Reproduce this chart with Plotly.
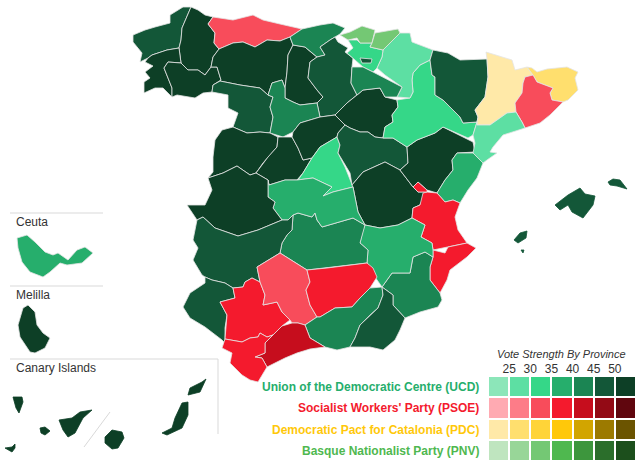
import plotly.graph_objects as go

# ── Palette (vote strength bins, 25 .. 50+) ────────────────────────────────
UCD = ["#8ce6b9", "#5ddfa3", "#35d788", "#26ae6c", "#1b8553", "#135738", "#0d3f26"]
PSOE = ["#ffaab2", "#fd7c88", "#f84c5b", "#f41a2d", "#c60d1d", "#930a15", "#60060e"]
PDC = ["#ffe9a8", "#ffdf6e", "#ffd438", "#ffc80a", "#d2a500", "#9c7a00", "#6b5400"]
PNV = ["#bfe5bf", "#98d698", "#74c874", "#4fb84f", "#3d963d", "#2b6e2b", "#1c4f1c"]
BIN_LABELS = ["25", "30", "35", "40", "45", "50"]
PARTY_LABELS = [
    "Union of the Democratic Centre (UCD)",
    "Socialist Workers' Party (PSOE)",
    "Democratic Pact for Catalonia (PDC)",
    "Basque Nationalist Party (PNV)",
]

# ── Province outlines, in picture units ────────────────────────────────────
A_CORUNA = [(133,35),(145,30),(155,27),(170,23),(170,15),(183,7),(191,7),(187,17),(182,28),(181,40),(179,48),(167,50),(152,55),(148,58),(140,62),(142,53),(133,42)]
LUGO = [(191,7),(198,10),(205,15),(213,17),(208,24),(215,33),(214,43),(219,49),(213,57),(211,67),(205,75),(198,70),(188,70),(181,63),(179,48),(181,40),(182,28),(187,17)]
PONTEVEDRA = [(148,58),(152,55),(167,50),(179,48),(181,63),(168,62),(164,68),(168,78),(172,88),(172,97),(163,88),(155,88),(144,93),(144,82),(150,78),(145,72),(153,66),(145,62)]
OURENSE = [(181,63),(188,70),(198,70),(205,75),(211,67),(217,67),(221,80),(213,85),(212,92),(203,93),(195,98),(177,95),(172,97),(172,88),(168,78),(164,68),(168,62)]
ASTURIAS = [(213,17),(233,20),(253,15),(263,20),(280,24),(302,29),(290,37),(280,41),(267,40),(255,47),(243,42),(233,43),(219,49),(214,43),(215,33),(208,24)]
LEON = [(219,49),(233,43),(243,42),(255,47),(267,40),(280,41),(290,37),(293,45),(288,55),(287,72),(285,88),(282,80),(272,83),(268,95),(260,88),(240,85),(220,81),(221,80),(217,67),(211,67),(213,57)]
PALENCIA = [(293,45),(305,47),(312,53),(317,57),(310,62),(308,78),(317,90),(323,97),(317,103),(300,105),(293,102),(285,98),(285,88),(287,72),(288,55)]
CANTABRIA = [(290,37),(302,29),(320,25),(333,23),(345,28),(340,34),(335,37),(330,40),(320,47),(325,55),(317,57),(312,53),(305,47),(293,45)]
BURGOS = [(330,40),(335,37),(338,42),(348,48),(345,52),(353,58),(352,67),(351,83),(357,95),(347,103),(335,115),(320,117),(317,103),(323,97),(317,90),(308,78),(310,62),(317,57),(325,55),(320,47)]
TREVINO = [(360,58),(372,59),(371,63),(362,63)]
ZAMORA = [(220,81),(240,85),(260,88),(268,95),(273,97),(270,107),(273,117),(270,133),(260,132),(247,133),(233,127),(238,113),(228,108),(228,95),(212,92),(213,85)]
VALLADOLID = [(272,83),(282,80),(285,88),(285,98),(293,102),(300,105),(317,103),(320,117),(300,123),(293,132),(283,137),(270,133),(273,117),(270,107),(273,97),(268,95)]
SALAMANCA = [(222,130),(233,127),(247,133),(260,132),(270,133),(278,137),(277,147),(268,157),(263,163),(256,173),(250,175),(237,166),(223,173),(208,178),(213,172),(213,157),(215,140)]
AVILA = [(278,137),(283,137),(292,137),(298,148),(303,160),(312,158),(303,173),(297,180),(285,180),(269,185),(268,180),(256,173),(263,163),(268,157),(277,147)]
SEGOVIA = [(292,137),(293,132),(300,123),(320,117),(335,115),(345,125),(338,133),(337,137),(320,147),(312,158),(303,160),(298,148)]
SORIA = [(335,115),(347,103),(357,95),(363,90),(380,88),(385,97),(397,100),(398,107),(392,115),(393,122),(385,127),(383,138),(375,137),(368,132),(360,132),(350,128),(345,125)]
MADRID = [(337,137),(340,145),(338,153),(345,167),(353,187),(333,192),(323,196),(332,187),(313,178),(298,180),(303,173),(312,158),(320,147)]
GUADALAJARA = [(338,133),(345,125),(350,128),(360,132),(368,132),(375,137),(383,138),(393,138),(407,147),(408,163),(400,170),(385,162),(363,172),(352,185),(350,173),(340,157),(338,153),(340,145),(337,137)]
CUENCA = [(352,185),(363,172),(385,162),(400,170),(413,187),(418,192),(427,192),(420,205),(413,208),(412,218),(398,225),(380,228),(365,225),(358,212),(353,187)]
TERUEL = [(407,147),(417,140),(435,133),(443,127),(473,142),(475,152),(457,153),(452,160),(453,170),(445,180),(437,193),(427,190),(418,182),(413,187),(400,170),(408,163)]
ADEMUZ = [(413,187),(418,182),(427,190),(427,192),(418,192)]
ZARAGOZA = [(413,73),(420,65),(430,60),(432,75),(435,77),(435,95),(443,100),(460,117),(463,123),(477,122),(473,135),(468,138),(443,127),(435,133),(417,140),(407,147),(393,138),(383,138),(385,127),(393,122),(392,115),(398,107),(397,100),(410,98),(413,92),(412,80)]
NAVARRA = [(383,50),(400,33),(410,33),(412,42),(433,50),(430,60),(420,65),(413,73),(412,80),(413,92),(410,98),(397,97),(402,87),(385,75),(377,68),(382,57)]
ALAVA = [(357,40),(360,43),(372,43),(370,47),(383,50),(382,57),(377,68),(373,72),(363,67),(347,53),(353,48),(348,40)]
VIZCAYA = [(340,35),(350,32),(362,26),(375,30),(372,43),(360,43),(357,38),(348,40)]
GUIPUZCOA = [(375,33),(398,29),(400,33),(383,50),(370,47),(372,43)]
LA_RIOJA = [(352,67),(363,67),(373,72),(402,87),(397,97),(385,97),(380,88),(363,90),(357,95),(351,83)]
HUESCA = [(433,50),(448,53),(460,60),(487,59),(488,77),(485,97),(475,110),(478,117),(477,122),(463,123),(460,117),(443,100),(435,95),(435,77),(432,75),(430,60)]
LLEIDA = [(486,52),(502,57),(512,60),(515,70),(523,68),(527,67),(533,75),(525,77),(523,83),(522,93),(515,103),(516,112),(507,113),(490,125),(477,125),(477,122),(478,117),(475,110),(485,97),(488,77),(487,59)]
GIRONA = [(527,67),(532,68),(537,72),(547,69),(567,67),(578,72),(575,78),(578,90),(568,100),(563,102),(552,100),(550,93),(553,88),(537,82),(533,75)]
BARCELONA = [(525,77),(533,75),(537,82),(553,88),(550,93),(552,100),(563,102),(550,115),(540,123),(525,128),(522,122),(516,112),(515,103),(522,93),(523,83)]
TARRAGONA = [(477,125),(490,125),(507,113),(516,112),(522,122),(525,128),(503,135),(493,147),(490,152),(497,153),(487,160),(483,163),(473,153),(475,143),(473,135),(477,122)]
CASTELLON = [(457,153),(473,153),(483,163),(477,178),(468,190),(460,203),(453,200),(445,202),(437,193),(445,180),(453,170),(452,160)]
VALENCIA = [(423,193),(427,192),(437,193),(445,202),(453,200),(460,203),(455,217),(458,230),(467,243),(448,247),(433,250),(432,243),(421,237),(425,225),(412,218),(413,208),(420,205)]
ALICANTE = [(433,250),(445,253),(448,247),(467,243),(476,248),(467,257),(450,270),(447,280),(440,293),(430,280),(430,267),(433,257)]
MURCIA = [(382,287),(392,273),(410,273),(413,257),(425,252),(433,257),(430,267),(430,280),(440,293),(442,300),(438,307),(420,312),(405,318),(393,305),(393,295)]
ALBACETE = [(365,225),(380,228),(398,225),(412,218),(425,225),(421,237),(432,243),(433,250),(433,257),(425,252),(413,257),(410,273),(392,273),(382,287),(375,277),(367,263),(368,250),(360,243),(363,230)]
CIUDAD_REAL = [(293,215),(298,213),(312,217),(315,213),(317,220),(322,227),(353,218),(365,225),(360,243),(368,250),(367,263),(327,268),(307,270),(280,253),(282,243),(287,235),(292,230)]
TOLEDO = [(268,180),(269,185),(285,180),(297,180),(313,178),(332,187),(323,196),(333,192),(353,187),(358,212),(365,225),(353,218),(322,227),(317,220),(315,213),(312,217),(298,213),(293,215),(288,220),(282,220),(273,208),(275,202),(268,197)]
CACERES = [(208,178),(223,173),(237,166),(250,175),(256,173),(268,180),(268,197),(275,202),(273,208),(282,220),(270,225),(258,230),(238,236),(215,228),(203,217),(197,220),(187,205),(205,205),(212,190)]
BADAJOZ = [(197,220),(203,217),(215,228),(238,236),(258,230),(270,225),(282,220),(288,220),(293,215),(292,230),(287,235),(282,243),(280,253),(257,267),(260,282),(252,278),(245,282),(243,287),(233,288),(225,283),(212,280),(205,277),(202,275),(193,260),(198,248),(193,240)]
HUELVA = [(205,277),(212,280),(225,283),(233,288),(235,298),(220,302),(227,315),(225,328),(225,343),(222,340),(205,327),(190,318),(183,307),(190,293),(205,283)]
SEVILLA = [(233,288),(243,287),(245,282),(252,278),(260,282),(265,295),(263,305),(277,302),(282,312),(290,320),(282,326),(273,335),(267,337),(260,333),(258,337),(250,338),(242,342),(225,339),(227,315),(220,302),(235,298)]
CORDOBA = [(280,253),(307,270),(310,282),(306,290),(310,305),(317,317),(305,325),(298,323),(292,323),(290,320),(282,312),(277,302),(263,305),(265,295),(260,282),(257,267)]
JAEN = [(307,270),(327,268),(367,263),(373,268),(377,277),(370,288),(360,298),(352,307),(335,308),(320,317),(317,317),(310,305),(306,290),(310,282)]
GRANADA = [(305,325),(317,317),(320,317),(335,308),(352,307),(360,298),(370,288),(382,287),(383,295),(378,308),(370,315),(360,325),(355,338),(350,347),(337,350),(325,347),(310,338)]
ALMERIA = [(382,287),(393,295),(393,305),(405,318),(400,330),(395,340),(383,350),(370,347),(350,347),(355,338),(360,325),(370,315),(378,308),(383,295)]
MALAGA = [(282,326),(292,323),(298,323),(305,325),(310,338),(325,347),(310,349),(297,353),(285,358),(267,367),(262,358),(255,357),(265,353),(265,343),(273,335)]
CADIZ = [(225,339),(242,342),(250,338),(258,337),(260,333),(267,337),(273,335),(265,343),(265,353),(255,357),(262,358),(267,367),(258,382),(250,380),(242,375),(230,363),(232,353),(222,348)]
MALLORCA = [(555,205),(568,195),(580,188),(585,194),(595,196),(593,205),(583,218),(572,212),(568,205),(560,210)]
MENORCA = [(608,182),(613,179),(620,180),(627,189),(617,186),(610,185)]
IBIZA = [(514,240),(520,233),(527,231),(526,238),(518,243)]
FORMENTERA = [(521,250),(524,250),(523,253)]
CEUTA = [(17,238),(27,235),(35,242),(45,252),(53,255),(58,253),(68,260),(77,250),(85,247),(93,253),(82,263),(67,265),(60,263),(50,272),(43,277),(30,272),(22,262),(18,248)]
MELILLA = [(28,305),(35,312),(37,325),(43,333),(50,338),(45,348),(35,353),(30,352),(20,337),(18,325),(23,308)]
LA_PALMA = [(13,397),(22,397),(23,402),(19,413),(16,408)]
EL_HIERRO = [(5,448),(12,447),(15,444),(15,448),(12,452)]
LA_GOMERA = [(40,428),(45,427),(50,431),(45,435),(41,433)]
TENERIFE = [(59,420),(72,418),(80,412),(92,410),(83,418),(75,433),(68,437),(63,430)]
GRAN_CANARIA = [(105,437),(112,430),(122,432),(124,438),(118,448),(112,449),(105,443)]
FUERTEVENTURA = [(162,433),(172,428),(175,418),(182,403),(188,402),(188,415),(182,428),(170,433),(167,435)]
LANZAROTE = [(190,388),(202,382),(206,379),(200,392),(188,395)]

# provincia -> color del bin
MAP_REGIONS = [
    (A_CORUNA, UCD[5]), (LUGO, UCD[6]), (PONTEVEDRA, UCD[6]), (OURENSE, UCD[6]),
    (ASTURIAS, PSOE[2]), (LEON, UCD[6]), (PALENCIA, UCD[6]), (CANTABRIA, UCD[4]),
    (BURGOS, UCD[5]), (ZAMORA, UCD[5]), (VALLADOLID, UCD[4]), (SALAMANCA, UCD[6]),
    (AVILA, UCD[6]), (SEGOVIA, UCD[6]), (SORIA, UCD[6]), (MADRID, UCD[2]),
    (GUADALAJARA, UCD[5]), (CUENCA, UCD[6]), (TERUEL, UCD[6]), (ZARAGOZA, UCD[2]),
    (NAVARRA, UCD[1]), (ALAVA, UCD[2]), (TREVINO, UCD[5]), (VIZCAYA, PNV[2]),
    (GUIPUZCOA, PNV[2]), (LA_RIOJA, UCD[4]), (HUESCA, UCD[5]), (LLEIDA, PDC[0]),
    (GIRONA, PDC[1]), (BARCELONA, PSOE[2]), (TARRAGONA, UCD[1]), (CASTELLON, UCD[3]),
    (VALENCIA, PSOE[3]), (ADEMUZ, PSOE[3]), (ALICANTE, PSOE[3]), (MURCIA, UCD[4]),
    (ALBACETE, UCD[3]), (CIUDAD_REAL, UCD[4]), (TOLEDO, UCD[3]), (CACERES, UCD[6]),
    (BADAJOZ, UCD[5]), (HUELVA, UCD[5]), (SEVILLA, PSOE[3]), (CORDOBA, PSOE[2]),
    (JAEN, PSOE[3]), (GRANADA, UCD[4]), (ALMERIA, UCD[5]), (MALAGA, PSOE[4]),
    (CADIZ, PSOE[3]), (CEUTA, UCD[3]), (MELILLA, UCD[6]),
]
DARK_ISLANDS = [MALLORCA, MENORCA, IBIZA, FORMENTERA]
CANARY = [LA_PALMA, EL_HIERRO, LA_GOMERA, TENERIFE, GRAN_CANARIA, FUERTEVENTURA, LANZAROTE]

FONT = "Liberation Sans, Arial, sans-serif"
BORDER = "#e4e4e4"
INSET = "#d9d9d9"

fig = go.Figure()


def add_region(pts, color, edge=BORDER):
    xs, ys = zip(*pts)
    fig.add_trace(go.Scatter(
        x=xs + xs[:1], y=ys + ys[:1], mode="lines", fill="toself", fillcolor=color,
        line=dict(color=edge, width=0.8), hoverinfo="skip", showlegend=False,
    ))


for pts, color in MAP_REGIONS:
    add_region(pts, color)
for pts in DARK_ISLANDS:
    add_region(pts, UCD[5], UCD[5])
for pts in CANARY:
    add_region(pts, UCD[6], UCD[6])

# ── Leyenda: heatmap de bins ───────────────────────────────────────────────
swatches = UCD + PSOE + PDC + PNV
n = len(swatches)
colorscale = []
for i, c in enumerate(swatches):
    colorscale += [[i / n, c], [(i + 1) / n, c]]
z = [[r * 7 + c for c in range(7)] for r in range(4)]
fig.add_trace(go.Heatmap(
    z=z, x=list(range(7)), y=list(range(4)), zmin=-0.5, zmax=n - 0.5,
    colorscale=colorscale, showscale=False, xgap=2, ygap=2, hoverinfo="skip",
    xaxis="x2", yaxis="y2",
))

fig.update_layout(
    width=640, height=465, autosize=False,
    margin=dict(l=0, r=0, t=0, b=0),
    paper_bgcolor="white", plot_bgcolor="white",
    font=dict(family=FONT, color="#333333"),
    xaxis=dict(range=[0, 640], visible=False, domain=[0, 1], fixedrange=True),
    yaxis=dict(range=[465, 0], visible=False, domain=[0, 1], fixedrange=True),
    xaxis2=dict(
        domain=[488 / 640, 636 / 640], range=[-0.5, 6.5], anchor="y2", side="top",
        tickmode="array", tickvals=[i + 0.5 for i in range(6)], ticktext=BIN_LABELS,
        tickfont=dict(size=12, color="#333333"), ticks="", showgrid=False, zeroline=False,
        showline=False, ticklen=0,
    ),
    yaxis2=dict(
        domain=[1 - 461 / 465, 1 - 376 / 465], range=[3.5, -0.5], anchor="x2",
        visible=False, showgrid=False, zeroline=False,
    ),
)

# líneas de los recuadros
for x0, y0, x1, y1 in [(10, 213, 103, 213), (10, 286, 103, 286), (10, 359, 218, 359),
                       (218, 359, 218, 434), (110, 412, 84, 447)]:
    fig.add_shape(type="line", x0=x0, y0=y0, x1=x1, y1=y1, xref="x", yref="y",
                  line=dict(color=INSET, width=1))

for text, x, y in [("Ceuta", 14, 222), ("Melilla", 14, 295), ("Canary Islands", 14, 368)]:
    fig.add_annotation(text=text, x=x, y=y, xref="x", yref="y", xanchor="left", yanchor="middle",
                       showarrow=False, font=dict(size=12, color="#333333", family=FONT))

fig.add_annotation(text="<i>Vote Strength By Province</i>", x=561, y=354, xref="x", yref="y",
                   showarrow=False, font=dict(size=11, color="#333333", family=FONT))

for label, color, y in zip(PARTY_LABELS, [UCD[3], PSOE[3], PDC[3], PNV[3]], [387, 408, 430, 451]):
    fig.add_annotation(text=f"<b>{label}</b>", x=481, y=y, xref="x", yref="y", xanchor="right",
                       yanchor="middle", showarrow=False, font=dict(size=12, color=color, family=FONT))

# el body trae 8px de margen por defecto
fig.write_html("out.html", config=dict(displayModeBar=False),
               post_script="document.body.style.margin='0';")
